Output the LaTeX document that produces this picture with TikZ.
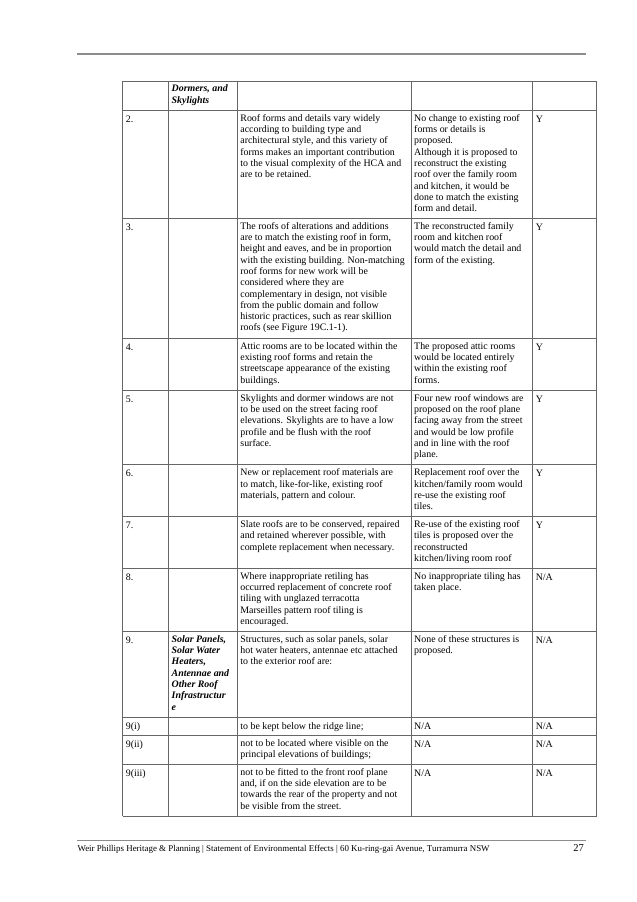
\documentclass[tikz,border=0pt]{standalone}
\usepackage{fontspec}
\setmainfont{Liberation Serif}
\begin{document}
\begin{tikzpicture}[x=1pt,y=-1pt,
  cell/.style={anchor=north west,inner sep=0pt,align=left,font=\fontsize{9.9}{11.3}\selectfont,execute at begin node=\strut},
  grid/.style={draw=black!60,line width=0.9pt},
  hd/.style={cell,font=\fontsize{9.9}{11.3}\selectfont\bfseries\itshape}]
\useasboundingbox (0,0) rectangle (637,902);
\fill[white] (0,0) rectangle (637,902);
\draw[draw=black!45,line width=1.3pt] (77,54) -- (586,54);
% grid
\def\xa{122.7}\def\xb{168.5}\def\xc{237.2}\def\xd{411}\def\xe{532.6}\def\xf{596.7}
\foreach \y in {81,110.3,218.3,338.5,390.4,464.8,516.5,568.5,631.5,717.4,735.3,764.4,816.3}
  \draw[grid] (\xa,\y) -- (\xf,\y);
\foreach \x in {\xa,\xb,\xc,\xd,\xe,\xf}
  \draw[grid] (\x,81) -- (\x,816.3);
\def\dy{3.8}
\node[hd] (h) at (\xb+3,81+\dy) {Dormers, and\\Skylights};
\newcommand{\rowcells}[6]{%
  \node[cell] (n#1) at (\xa+3,#2+\dy) {#3};
  \node[cell] (a#1) at (\xc+3,#2+\dy) {#4};
  \node[cell] (b#1) at (\xd+3,#2+\dy) {#5};
  \node[cell] (c#1) at (\xe+3,#2+\dy) {#6};}
\rowcells{2}{110.3}{2.}{Roof forms and details vary widely\\according to building type and\\architectural style, and this variety of\\forms makes an important contribution\\to the visual complexity of the HCA and\\are to be retained.}{No change to existing roof\\forms or details is\\proposed.\\Although it is proposed to\\reconstruct the existing\\roof over the family room\\and kitchen, it would be\\done to match the existing\\form and detail.}{Y}
\rowcells{3}{218.3}{3.}{The roofs of alterations and additions\\are to match the existing roof in form,\\height and eaves, and be in proportion\\with the existing building. Non-matching\\roof forms for new work will be\\considered where they are\\complementary in design, not visible\\from the public domain and follow\\historic practices, such as rear skillion\\roofs (see Figure 19C.1-1).}{The reconstructed family\\room and kitchen roof\\would match the detail and\\form of the existing.}{Y}
\rowcells{4}{338.5}{4.}{Attic rooms are to be located within the\\existing roof forms and retain the\\streetscape appearance of the existing\\buildings.}{The proposed attic rooms\\would be located entirely\\within the existing roof\\forms.}{Y}
\rowcells{5}{390.4}{5.}{Skylights and dormer windows are not\\to be used on the street facing roof\\elevations. Skylights are to have a low\\profile and be flush with the roof\\surface.}{Four new roof windows are\\proposed on the roof plane\\facing away from the street\\and would be low profile\\and in line with the roof\\plane.}{Y}
\rowcells{6}{464.8}{6.}{New or replacement roof materials are\\to match, like-for-like, existing roof\\materials, pattern and colour.}{Replacement roof over the\\kitchen/family room would\\re-use the existing roof\\tiles.}{Y}
\rowcells{7}{516.5}{7.}{Slate roofs are to be conserved, repaired\\and retained wherever possible, with\\complete replacement when necessary.}{Re-use of the existing roof\\tiles is proposed over the\\reconstructed\\kitchen/living room roof}{Y}
\rowcells{8}{568.5}{8.}{Where inappropriate retiling has\\occurred replacement of concrete roof\\tiling with unglazed terracotta\\Marseilles pattern roof tiling is\\encouraged.}{No inappropriate tiling has\\taken place.}{N/A}
\rowcells{9}{631.5}{9.}{Structures, such as solar panels, solar\\hot water heaters, antennae etc attached\\to the exterior roof are:}{None of these structures is\\proposed.}{N/A}
\node[hd] (h9) at (\xb+3,631.5+\dy) {Solar Panels,\\Solar Water\\Heaters,\\Antennae and\\Other Roof\\Infrastructur\\e};
\rowcells{9i}{717.4}{9(i)}{to be kept below the ridge line;}{N/A}{N/A}
\rowcells{9ii}{735.3}{9(ii)}{not to be located where visible on the\\principal elevations of buildings;}{N/A}{N/A}
\rowcells{9iii}{764.4}{9(iii)}{not to be fitted to the front roof plane\\and, if on the side elevation are to be\\towards the rear of the property and not\\be visible from the street.}{N/A}{N/A}
% footer
\draw[draw=black!45,line width=1pt] (77,840.3) -- (586,840.3);
\node[anchor=base west,inner sep=0pt,font=\fontsize{8.9}{10}\selectfont] (ft) at (77.4,851) {Weir Phillips Heritage \& Planning | Statement of Environmental Effects | 60 Ku-ring-gai Avenue, Turramurra NSW};
\node[anchor=base east,inner sep=0pt,font=\fontsize{10.5}{12}\selectfont] (pg) at (584,851) {27};
\end{tikzpicture}
\end{document}
